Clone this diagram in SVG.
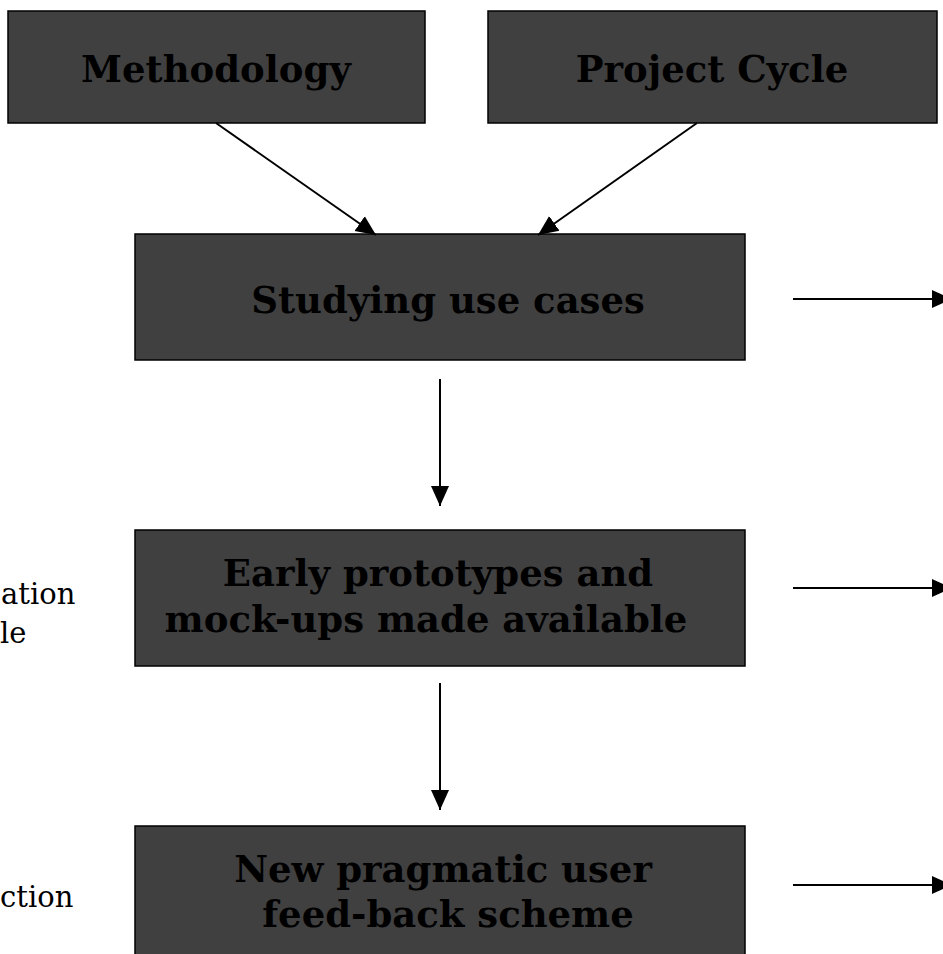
<svg xmlns="http://www.w3.org/2000/svg" width="943" height="954" viewBox="0 0 943 954">
<style>
.box{fill:#404040;stroke:#000;stroke-width:1.5}
.t{font-family:"DejaVu Serif",serif;font-weight:bold;font-size:37px;fill:#000;text-anchor:middle}
.side{font-family:"DejaVu Serif",serif;font-size:29px;fill:#000}
.c{stroke:#000;stroke-width:2;fill:none;marker-end:url(#ah)}
</style>
<defs>
<marker id="ah" viewBox="0 0 20 20" refX="20" refY="10" markerWidth="20" markerHeight="20" markerUnits="userSpaceOnUse" orient="auto">
<path d="M0,1 L20,10 L0,19 z" fill="#000"/>
</marker>
</defs>
<rect width="943" height="954" fill="#fff"/>
<g id="side-labels">
<text class="side" x="1" y="604">ation</text>
<text class="side" x="0" y="643">le</text>
<text class="side" x="0" y="907">ction</text>
</g>
<g id="methodology">
<rect class="box" x="8" y="11" width="417" height="112"/>
<text class="t" x="216" y="82">Methodology</text>
</g>
<g id="project-cycle">
<rect class="box" x="488" y="11" width="449" height="112"/>
<text class="t" x="712" y="82">Project Cycle</text>
</g>
<g id="studying">
<rect class="box" x="135" y="234" width="610" height="126"/>
<text class="t" x="448" y="313">Studying use cases</text>
</g>
<g id="prototypes">
<rect class="box" x="135" y="530" width="610" height="136"/>
<text class="t" x="438" y="586">Early prototypes and</text>
<text class="t" x="426" y="632">mock-ups made available</text>
</g>
<g id="feedback">
<rect class="box" x="135" y="826" width="610" height="140"/>
<text class="t" x="443" y="882">New pragmatic user</text>
<text class="t" x="448" y="927">feed-back scheme</text>
</g>
<g id="connectors">
<line class="c" x1="216" y1="123" x2="376" y2="235"/>
<line class="c" x1="697" y1="123" x2="538" y2="235"/>
<line class="c" x1="440" y1="379" x2="440" y2="506"/>
<line class="c" x1="440" y1="683" x2="440" y2="810"/>
<line class="c" x1="793" y1="299" x2="952" y2="299"/>
<line class="c" x1="793" y1="588" x2="952" y2="588"/>
<line class="c" x1="793" y1="885" x2="952" y2="885"/>
</g>
</svg>
